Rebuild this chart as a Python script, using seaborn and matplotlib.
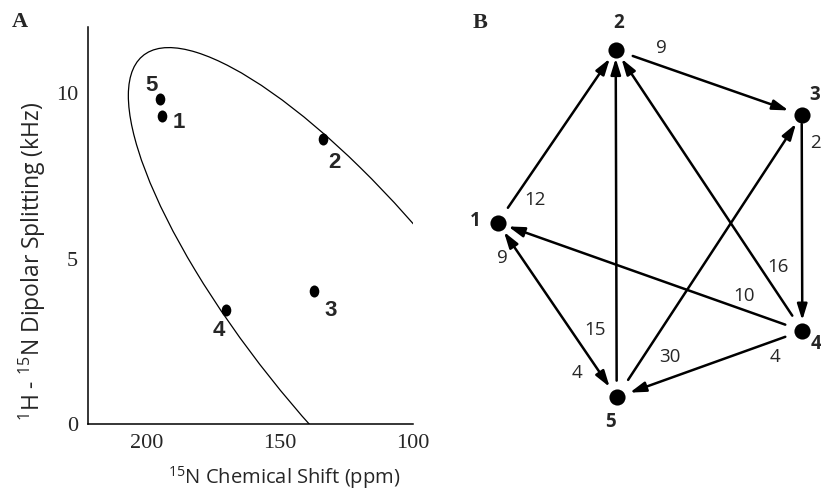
import numpy as np
import pandas as pd
import matplotlib
matplotlib.use("Agg")
import matplotlib.pyplot as plt
from matplotlib.patches import Ellipse
from matplotlib.markers import MarkerStyle
from matplotlib.transforms import Affine2D
import seaborn as sns

# ---------------- data: panel A ----------------
residues = ["5", "1", "2", "3", "4"]
chem_shift = [195.0, 194.2, 133.8, 137.2, 170.2]      # 15N ppm
dipolar = [9.82, 9.31, 8.62, 4.02, 3.45]              # kHz

# PISA wheel (ellipse fitted to the curve), data units
wheel_center = (120.17, 3.091)
wheel_width = 173.91
wheel_height = 9.348
wheel_angle = -175.48

# ---------------- data: panel B ----------------
nodes = ["1", "2", "3", "4", "5"]
node_x = [497.7, 615.7, 801.7, 802.3, 616.7]
node_y = [222.7, 50.0, 115.0, 330.7, 397.3]
edge_src = ["1", "2", "3", "5", "4", "5", "4", "4", "1"]
edge_dst = ["2", "3", "4", "2", "2", "3", "1", "5", "5"]
edge_lbl = ["12", "9", "2", "15", "16", "30", "10", "4", "9"]
extra_lbl = ["4"]

# ---------------- figure ----------------
sns.set_theme(style="white")
plt.rcParams["font.family"] = ["Open Sans", "DejaVu Sans"]
plt.rcParams["mathtext.default"] = "regular"

fig = plt.figure(figsize=(8.21, 4.9), dpi=100)
W, H = 821, 490

# panel B canvas (whole figure, layout units)
axb = fig.add_axes([0, 0, 1, 1])
axb.set_xlim(0, W)
axb.set_ylim(H, 0)
axb.axis("off")

# panel A
axa = fig.add_axes([88 / W, (H - 424) / H, (413 - 88) / W, (424 - 27) / H])
axa.set_facecolor("none")
dfa = pd.DataFrame({"shift": chem_shift, "split": dipolar, "res": residues})
ell_marker = MarkerStyle("o", transform=Affine2D().scale(0.8, 1.0))
sns.scatterplot(data=dfa, x="shift", y="split", ax=axa, color="black",
                marker=ell_marker, s=75, edgecolor="black", linewidth=0, zorder=3)
axa.add_patch(Ellipse(xy=wheel_center, width=wheel_width, height=wheel_height,
                      angle=wheel_angle, fill=False, edgecolor="black", lw=0.9))
axa.set_xlim(222, 100)
axa.set_ylim(0, 12)
axa.set_xticks([200, 150, 100])
axa.set_yticks([0, 5, 10])
axa.tick_params(length=0, pad=7, labelsize=16)
for lab in axa.get_xticklabels() + axa.get_yticklabels():
    lab.set_fontfamily("Liberation Serif")
for sp in ["top", "right"]:
    axa.spines[sp].set_visible(False)
for sp in ["left", "bottom"]:
    axa.spines[sp].set_color("black")
    axa.spines[sp].set_linewidth(1.1)
axa.set_xlabel("$^{15}$N Chemical Shift (ppm)", fontsize=14.5)
axa.xaxis.set_label_coords(0.603, -0.134)
axa.xaxis.label.set_va("center")
axa.set_ylabel("$^{1}$H - $^{15}$N Dipolar Splitting (kHz)", fontsize=16.5)
axa.yaxis.set_label_coords(-0.172, 0.41)
axa.yaxis.label.set_va("center")

lbl_off = {"5": (-6, 10), "1": (12, -5), "2": (8, -17), "3": (12, -14), "4": (-5, -15)}
for r, xv, yv in zip(residues, chem_shift, dipolar):
    axa.annotate(r, (xv, yv), xytext=lbl_off[r], textcoords="offset points",
                 ha="center", va="center", fontsize=16, fontweight="bold",
                 family="Liberation Sans")

fig.text(20 / W, 1 - 22 / H, "A", family="Liberation Serif", fontweight="bold",
         fontsize=16, ha="center", va="center")
fig.text(480 / W, 1 - 23 / H, "B", family="Liberation Serif", fontweight="bold",
         fontsize=16, ha="center", va="center")

# panel B graph
pos = {n: (x, y) for n, x, y in zip(nodes, node_x, node_y)}
dfb = pd.DataFrame({"x": node_x, "y": node_y, "n": nodes})
sns.scatterplot(data=dfb, x="x", y="y", ax=axb, color="black", s=135,
                linewidth=0, zorder=4)
axb.set_xlabel("")
axb.set_ylabel("")
start_gap = [13, 13, 6.5, 12, 13, 15, 13, 13, 8]
end_gap = [7.5, 10, 7.5, 6, 7.5, 7.5, 8, 10, 9]
for s_, d_, g0, g1 in zip(edge_src, edge_dst, start_gap, end_gap):
    style = "<|-|>" if (s_, d_) == ("1", "5") else "-|>"
    axb.annotate("", xy=pos[d_], xytext=pos[s_],
                 arrowprops=dict(arrowstyle=style + ",head_length=0.8,head_width=0.25",
                                 color="black", lw=1.8, shrinkA=g0, shrinkB=g1))

edge_lbl_pos = [(535, 200), (661.7, 48), (815, 143), (595, 330), (778, 267),
                (670, 357), (744, 296), (775, 357), (502, 258)]
for t, (x, y) in zip(edge_lbl, edge_lbl_pos):
    axb.text(x, y, t, ha="center", va="center", fontsize=13.5)
for t, (x, y) in zip(extra_lbl, [(577, 373)]):
    axb.text(x, y, t, ha="center", va="center", fontsize=13.5)

node_lbl_pos = [(475, 221), (618.3, 22.7), (815, 95), (816, 344), (610, 421.7)]
for n, (x, y) in zip(nodes, node_lbl_pos):
    axb.text(x, y, n, ha="center", va="center", fontsize=13.5, fontweight="bold")

fig.savefig("out.png", dpi=100)
